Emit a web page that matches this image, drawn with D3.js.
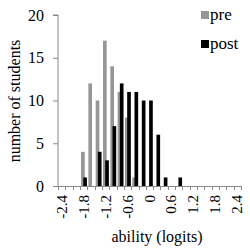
<!DOCTYPE html>
<html>
<head>
<meta charset="utf-8">
<script src="https://cdn.jsdelivr.net/npm/d3@7"></script>
<style>
  body { margin: 0; background: #fff; }
  svg { display: block; }
</style>
</head>
<body>
<script>
// ability bins (logits), every 0.2
const bins = ["-2.4","-2.2","-2","-1.8","-1.6","-1.4","-1.2","-1","-0.8","-0.6","-0.4","-0.2","0",
              "0.2","0.4","0.6","0.8","1","1.2","1.4","1.6","1.8","2","2.2","2.4"];
const preCounts  = [0,0,0,4,12,10,17,14,11,8,1,0,0,0,0,0,0,0,0,0,0,0,0,0,0];
const postCounts = [0,0,0,1,0,4,3,7,12,11,11,10,10,6,1,0,1,0,0,0,0,0,0,0,0];
const xTickLabels = ["-2.4","-1.8","-1.2","-0.6","0","0.6","1.2","1.8","2.4"];
const yTicks = [0, 5, 10, 15, 20];

const width = 250, height = 250;
const plotL = 58, plotR = 241, plotT = 15, plotB = 186;
const axisColor = "#888";
const font = "'Liberation Serif', 'Times New Roman', serif";

const svg = d3.select("body").append("svg")
    .attr("width", width).attr("height", height);

const x = d3.scaleBand().domain(bins).range([plotL, plotR]);
const y = d3.scaleLinear().domain([0, 20]).range([plotB, plotT]);

const bw = x.bandwidth();
const barW = bw * 0.5;

// pre bars (gray), behind
svg.append("g").selectAll("rect")
    .data(bins.map((b, i) => ({b, v: preCounts[i]})).filter(d => d.v > 0))
    .join("rect")
    .attr("x", d => x(d.b) + bw * 0.15)
    .attr("y", d => y(d.v))
    .attr("width", barW)
    .attr("height", d => y(0) - y(d.v))
    .attr("fill", "#969696");

// post bars (black), in front
svg.append("g").selectAll("rect")
    .data(bins.map((b, i) => ({b, v: postCounts[i]})).filter(d => d.v > 0))
    .join("rect")
    .attr("x", d => x(d.b) + bw * 0.45)
    .attr("y", d => y(d.v))
    .attr("width", barW)
    .attr("height", d => y(0) - y(d.v))
    .attr("fill", "#000");

// y axis
const yAxis = svg.append("g")
    .attr("transform", `translate(${plotL},0)`)
    .call(d3.axisLeft(y).tickValues(yTicks).tickSize(5).tickPadding(9));
yAxis.select(".domain").attr("stroke", axisColor).attr("d", `M-5,${y(20)}H0V${y(0)}`);
yAxis.selectAll(".tick line").attr("stroke", axisColor);
yAxis.selectAll("text").style("font-family", font).style("font-size", "16px").attr("fill", "#000");

// x axis: tick marks on bin boundaries
const xg = svg.append("g");
xg.append("line")
    .attr("x1", plotL).attr("x2", plotR)
    .attr("y1", plotB + 0.5).attr("y2", plotB + 0.5)
    .attr("stroke", axisColor);
xg.selectAll("line.tk")
    .data(bins.concat(["end"]))
    .join("line")
    .attr("class", "tk")
    .attr("x1", (d, i) => Math.round(plotL + i * bw) + 0.5)
    .attr("x2", (d, i) => Math.round(plotL + i * bw) + 0.5)
    .attr("y1", plotB).attr("y2", plotB + 4)
    .attr("stroke", axisColor);
xg.selectAll("text")
    .data(xTickLabels)
    .join("text")
    .attr("transform", d => `translate(${x(bins.find(b => +b === +d)) + bw / 2},${plotB + 9}) rotate(-90)`)
    .attr("text-anchor", "end")
    .attr("dominant-baseline", "central")
    .style("font-family", font).style("font-size", "15px")
    .text(d => d);

// axis titles
svg.append("text")
    .attr("x", 157).attr("y", 242)
    .attr("text-anchor", "middle")
    .style("font-family", font).style("font-size", "16px")
    .text("ability (logits)");
svg.append("text")
    .attr("transform", "translate(20,101) rotate(-90)")
    .attr("text-anchor", "middle")
    .style("font-family", font).style("font-size", "16px")
    .text("number of students");

// legend
const legend = [{name: "pre", color: "#969696"}, {name: "post", color: "#000"}];
const lg = svg.append("g").selectAll("g")
    .data(legend)
    .join("g")
    .attr("transform", (d, i) => `translate(201,${11 + i * 29})`);
lg.append("rect").attr("width", 8).attr("height", 8).attr("fill", d => d.color);
lg.append("text")
    .attr("x", 9).attr("y", 9)
    .style("font-family", font).style("font-size", "17px")
    .text(d => d.name);
</script>
</body>
</html>
